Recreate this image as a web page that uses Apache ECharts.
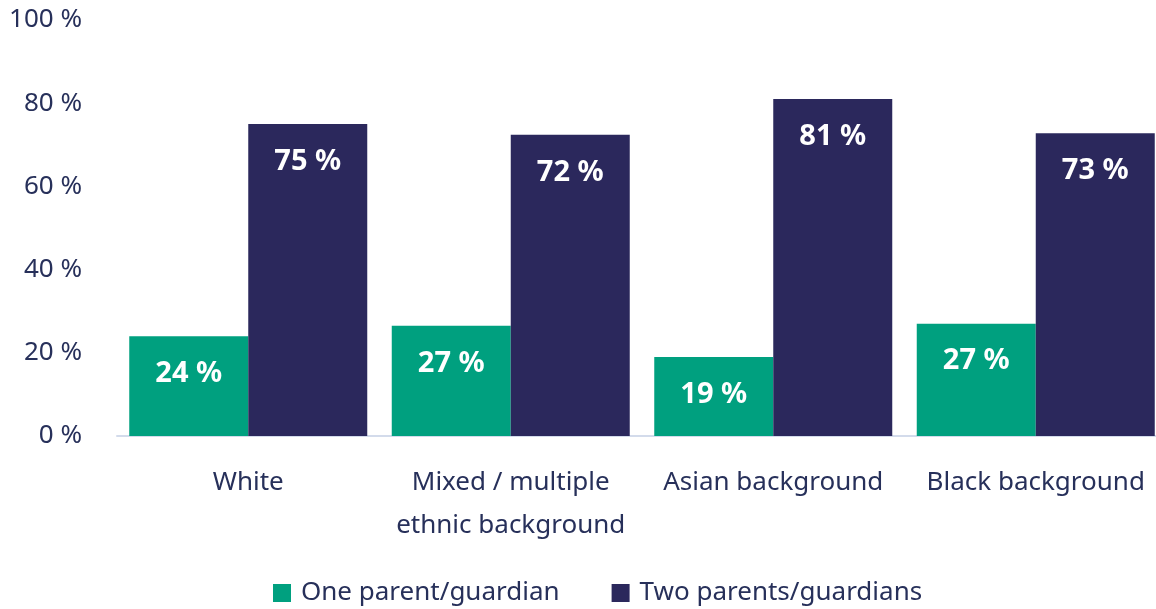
<!DOCTYPE html>
<html><head><meta charset="utf-8">
<script src="https://cdn.jsdelivr.net/npm/echarts@6/dist/echarts.min.js"></script>
<style>html,body{margin:0;padding:0;background:#fff}#c{width:1156px;height:609px}</style>
</head><body><div id="c"></div>
<script>
const categories = ['White', 'Mixed / multiple\nethnic background', 'Asian background', 'Black background'];
const seriesNames = ['One parent/guardian', 'Two parents/guardians'];
const oneParent = [24, 26.5, 19, 27];
const twoParents = [75, 72.4, 81, 72.8];
const yTicks = [0, 20, 40, 60, 80, 100];

const FONT = 'Noto Sans';
const TXT = '#27305a';
const chart = echarts.init(document.getElementById('c'));
const labelCfg = {
  show: true, position: 'insideTop', distance: 23,
  color: '#fff', fontFamily: FONT, fontWeight: 'bold', fontSize: 29,
  formatter: p => Math.round(p.value) + ' %'
};
chart.setOption({
  animation: false,
  color: ['#00a07f', '#2b285c'],
  textStyle: { fontFamily: FONT },
  grid: { left: 117, width: 1050, top: 20, bottom: 173, containLabel: false, outerBoundsMode: 'none' },
  legend: {
    top: 572, left: 268, itemWidth: 18, itemHeight: 18, itemGap: 52,
    icon: 'rect',
    textStyle: { fontFamily: FONT, fontSize: 26, lineHeight: 32, color: TXT, padding: [0, 0, 0, 5] },
    data: seriesNames
  },
  xAxis: {
    type: 'category', data: categories,
    axisLine: { lineStyle: { color: '#d3dbeb', width: 2 } },
    axisTick: { show: false },
    axisLabel: { fontFamily: FONT, fontSize: 26, color: TXT, margin: 25, lineHeight: 43, interval: 0 }
  },
  yAxis: {
    type: 'value', min: yTicks[0], max: yTicks[yTicks.length - 1], interval: 20,
    splitLine: { show: false },
    axisLine: { show: false }, axisTick: { show: false },
    axisLabel: { fontFamily: FONT, fontSize: 26, color: TXT, margin: 35, formatter: v => v + ' %' }
  },
  series: [
    { name: seriesNames[0], type: 'bar', data: oneParent, barWidth: 119, barGap: '0%', label: labelCfg },
    { name: seriesNames[1], type: 'bar', data: twoParents, barWidth: 119, barGap: '0%', label: labelCfg }
  ]
});
</script></body></html>
